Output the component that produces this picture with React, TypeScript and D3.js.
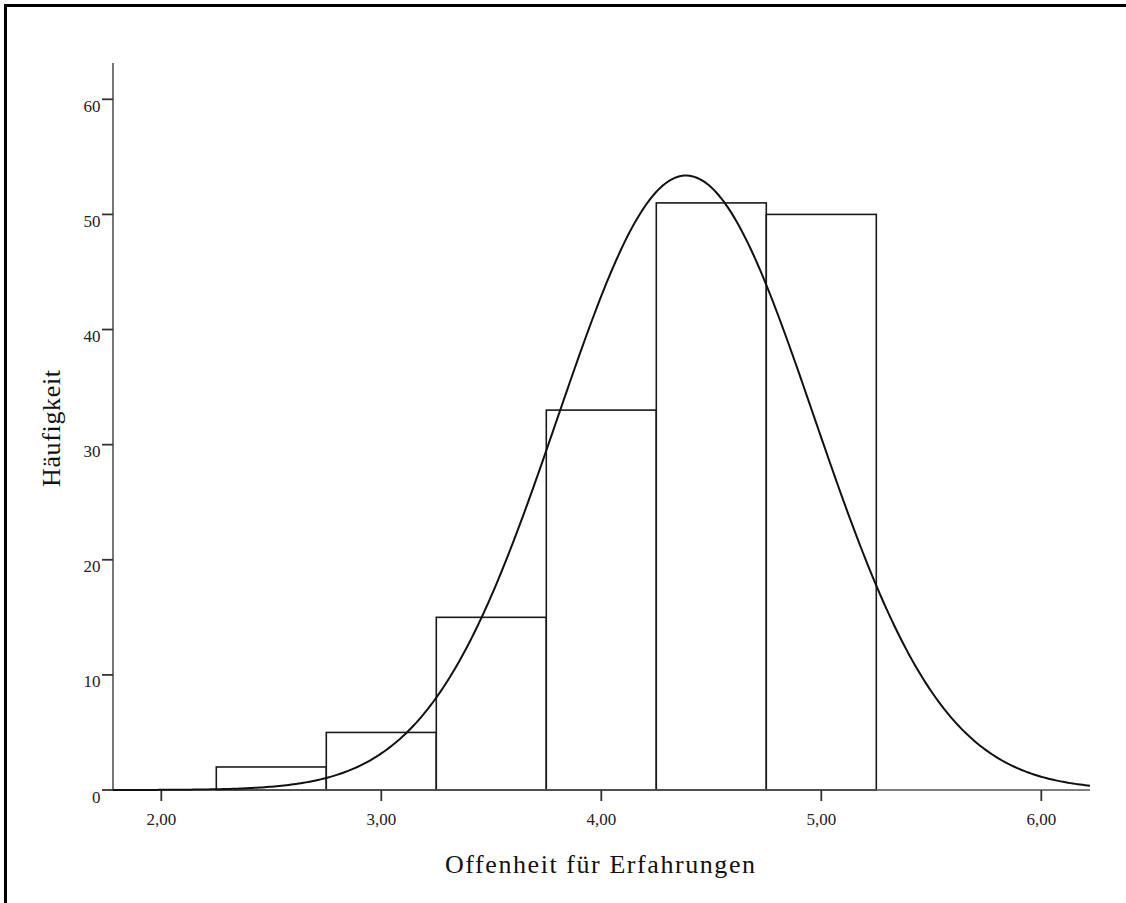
import React from "react";
import * as d3 from "d3";

// Histogram of "Offenheit für Erfahrungen" with fitted normal curve
const binStarts = [2.25, 2.75, 3.25, 3.75, 4.25, 4.75];
const binWidth = 0.5;
const counts = [2, 5, 15, 33, 51, 50];
const xTicks = [2, 3, 4, 5, 6];
const yTicks = [0, 10, 20, 30, 40, 50, 60];
const fitMean = 4.385;
const fitSd = 0.583;

const W = 1126;
const H = 903;
const FONT = "'Liberation Serif', 'DejaVu Serif', serif";

export default function App() {
  const x = d3.scaleLinear().domain([2, 6]).range([161.3, 1041.3]);
  const y = d3.scaleLinear().domain([0, 60]).range([790, 99.3]);
  const xMin = x.invert(113);
  const xMax = x.invert(1090);
  const n = d3.sum(counts);

  const density = (v: number) =>
    (n * binWidth) / (fitSd * Math.sqrt(2 * Math.PI)) *
    Math.exp(-0.5 * ((v - fitMean) / fitSd) ** 2);
  const curvePts = d3.range(0, 401).map((i) => {
    const v = xMin + ((xMax - xMin) * i) / 400;
    return [v, density(v)] as [number, number];
  });
  const line = d3
    .line<[number, number]>()
    .x((d) => x(d[0]))
    .y((d) => y(d[1]))
    .curve(d3.curveLinear);

  const fmt = (v: number) => v.toFixed(2).replace(".", ",");

  return (
    <svg
      width={W}
      height={H}
      style={{ position: "absolute", left: 0, top: 0, display: "block", background: "#fff" }}
    >
      {/* outer frame */}
      <rect x={5.5} y={5.5} width={W + 20} height={H + 20} fill="none" stroke="#000" strokeWidth={3} />

      {/* bars */}
      {counts.map((c, i) => (
        <rect
          key={i}
          x={x(binStarts[i])}
          y={y(c)}
          width={x(binStarts[i] + binWidth) - x(binStarts[i])}
          height={y(0) - y(c)}
          fill="#fff"
          stroke="#1a1a1a"
          strokeWidth={1.6}
        />
      ))}

      {/* axes */}
      <line x1={113} x2={113} y1={63} y2={790} stroke="#555" strokeWidth={1.6} />
      <line x1={113} x2={1090} y1={790} y2={790} stroke="#555" strokeWidth={1.6} />
      {yTicks.map((t) => (
        <g key={t}>
          <line x1={102} x2={113} y1={y(t)} y2={y(t)} stroke="#333" strokeWidth={1.8} />
          <text
            x={100.5}
            y={y(t) + 12.5}
            textAnchor="end"
            fontFamily={FONT}
            fontSize={17}
            fill="#222"
          >
            {t}
          </text>
        </g>
      ))}
      {xTicks.map((t) => (
        <g key={t}>
          <line x1={x(t)} x2={x(t)} y1={790} y2={801} stroke="#333" strokeWidth={1.8} />
          <text
            x={x(t)}
            y={825}
            textAnchor="middle"
            fontFamily={FONT}
            fontSize={17}
            fill="#222"
          >
            {fmt(t)}
          </text>
        </g>
      ))}

      {/* fitted normal curve */}
      <path d={line(curvePts) ?? ""} fill="none" stroke="#111" strokeWidth={2} />

      {/* axis titles */}
      <text
        x={600}
        y={873}
        textAnchor="middle"
        fontFamily={FONT}
        fontSize={26}
        textLength={310}
        lengthAdjust="spacing"
        fill="#111"
      >
        Offenheit für Erfahrungen
      </text>
      <text
        transform="translate(60,428.5) rotate(-90)"
        textAnchor="middle"
        fontFamily={FONT}
        fontSize={26}
        textLength={117}
        lengthAdjust="spacing"
        fill="#111"
      >
        Häufigkeit
      </text>
    </svg>
  );
}
